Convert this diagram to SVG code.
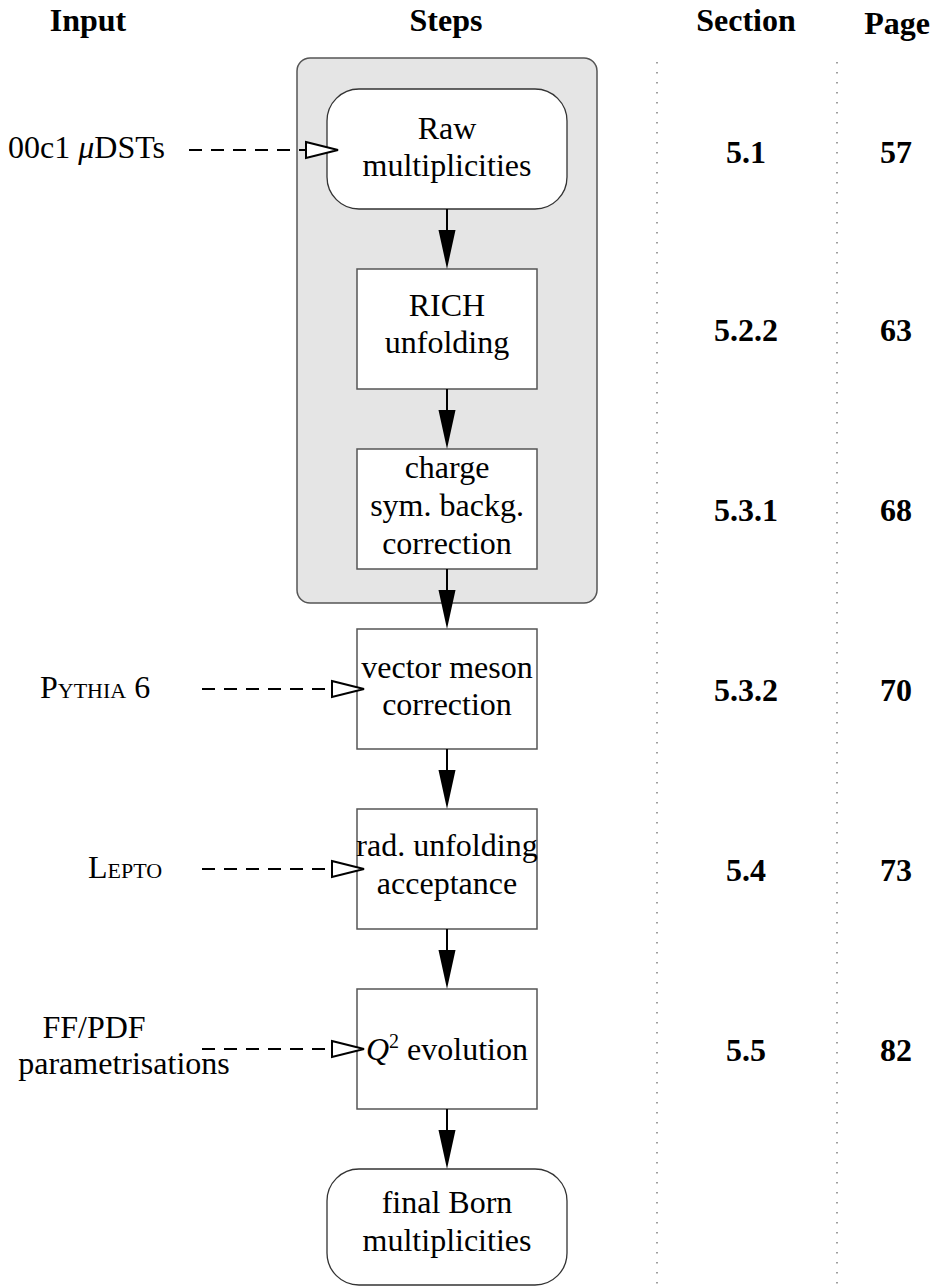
<svg xmlns="http://www.w3.org/2000/svg" width="933" height="1286" viewBox="0 0 933 1286">
  <style>
    text { font-family: "Liberation Serif", "Times New Roman", serif; fill: #000; }
    .hdr { font-size: 32px; font-weight: bold; text-anchor: middle; }
    .lbl { font-size: 32px; text-anchor: middle; }
    .in { font-size: 32px; }
    .num { font-size: 32px; font-weight: bold; text-anchor: middle; }
    .box { fill: #fff; stroke: #555; stroke-width: 1.5; }
    .rbox { fill: #fff; stroke: #333; stroke-width: 1.3; }
    .flow { stroke: #000; stroke-width: 2; fill: none; marker-end: url(#solid); }
    .dash { stroke: #000; stroke-width: 2; fill: none; stroke-dasharray: 13 9; marker-end: url(#open); }
    .dots { stroke: #888; stroke-width: 1.6; stroke-dasharray: 1.6 8.4; }
  </style>
  <defs>
    <marker id="solid" markerUnits="userSpaceOnUse" markerWidth="40" markerHeight="18" refX="29" refY="9" orient="auto" overflow="visible">
      <path d="M0,0.5 L39,9 L0,17.5 z" fill="#000" stroke="none"/>
    </marker>
    <marker id="open" markerUnits="userSpaceOnUse" markerWidth="36" markerHeight="18" refX="0" refY="8" orient="auto" overflow="visible">
      <path d="M0,0 L32,8 L0,16 z" fill="#fff" stroke="#000" stroke-width="2" stroke-dasharray="none"/>
    </marker>
  </defs>

  <g id="headers">
    <text class="hdr" x="88" y="31">Input</text>
    <text class="hdr" x="446" y="31">Steps</text>
    <text class="hdr" x="746" y="31">Section</text>
    <text class="hdr" x="897" y="34">Page</text>
  </g>

  <g id="separators">
    <line class="dots" x1="657" y1="62" x2="657" y2="1286"/>
    <line class="dots" x1="837" y1="62" x2="837" y2="1286"/>
  </g>

  <g id="group-box">
    <rect x="297" y="58" width="300" height="545" rx="13" fill="#e5e5e5" stroke="#555" stroke-width="1.5"/>
  </g>

  <g id="node-raw">
    <rect class="rbox" x="327" y="89" width="240" height="120" rx="32"/>
    <text class="lbl" x="447" y="139">Raw</text>
    <text class="lbl" x="447" y="176">multiplicities</text>
  </g>

  <g id="node-rich">
    <rect class="box" x="357" y="269" width="180" height="120"/>
    <text class="lbl" x="447" y="316">RICH</text>
    <text class="lbl" x="447" y="353">unfolding</text>
  </g>

  <g id="node-charge">
    <rect class="box" x="357" y="449" width="180" height="120"/>
    <text class="lbl" x="447" y="478">charge</text>
    <text class="lbl" x="447" y="516">sym. backg.</text>
    <text class="lbl" x="447" y="554">correction</text>
  </g>

  <g id="node-vector">
    <rect class="box" x="357" y="629" width="180" height="120"/>
    <text class="lbl" x="447" y="678">vector meson</text>
    <text class="lbl" x="447" y="715">correction</text>
  </g>

  <g id="node-rad">
    <rect class="box" x="357" y="809" width="180" height="120"/>
    <text class="lbl" x="447" y="856">rad. unfolding</text>
    <text class="lbl" x="447" y="894">acceptance</text>
  </g>

  <g id="node-q2">
    <rect class="box" x="357" y="989" width="180" height="120"/>
    <text class="lbl" x="447" y="1060"><tspan font-style="italic">Q</tspan><tspan font-size="20" dy="-12">2</tspan><tspan dy="12"> evolution</tspan></text>
  </g>

  <g id="node-final">
    <rect class="rbox" x="327" y="1169" width="240" height="116" rx="32"/>
    <text class="lbl" x="447" y="1213">final Born</text>
    <text class="lbl" x="447" y="1251">multiplicities</text>
  </g>

  <g id="inputs">
    <text class="in" x="8" y="158">00c1 <tspan font-style="italic">μ</tspan>DSTs</text>
    <text class="in" x="40" y="698" font-variant="small-caps">Pythia 6</text>
    <text class="in" x="88" y="878" font-variant="small-caps">Lepto</text>
    <text class="lbl" x="94" y="1038">FF/PDF</text>
    <text class="lbl" x="124" y="1074">parametrisations</text>
  </g>

  <g id="sections">
    <text class="num" x="746" y="163">5.1</text>
    <text class="num" x="746" y="341">5.2.2</text>
    <text class="num" x="746" y="521">5.3.1</text>
    <text class="num" x="746" y="701">5.3.2</text>
    <text class="num" x="746" y="881">5.4</text>
    <text class="num" x="746" y="1061">5.5</text>
  </g>

  <g id="pages">
    <text class="num" x="896" y="163">57</text>
    <text class="num" x="896" y="341">63</text>
    <text class="num" x="896" y="521">68</text>
    <text class="num" x="896" y="701">70</text>
    <text class="num" x="896" y="881">73</text>
    <text class="num" x="896" y="1061">82</text>
  </g>

  <g id="connectors">
    <line class="flow" x1="447" y1="209" x2="447" y2="259"/>
    <line class="flow" x1="447" y1="389" x2="447" y2="439"/>
    <line class="flow" x1="447" y1="569" x2="447" y2="619"/>
    <line class="flow" x1="447" y1="749" x2="447" y2="799"/>
    <line class="flow" x1="447" y1="929" x2="447" y2="979"/>
    <line class="flow" x1="447" y1="1109" x2="447" y2="1159"/>
    <line class="dash" x1="189" y1="150" x2="306" y2="150"/>
    <line class="dash" x1="202" y1="689" x2="332" y2="689"/>
    <line class="dash" x1="202" y1="869" x2="332" y2="869"/>
    <line class="dash" x1="202" y1="1049" x2="332" y2="1049"/>
  </g>
</svg>
